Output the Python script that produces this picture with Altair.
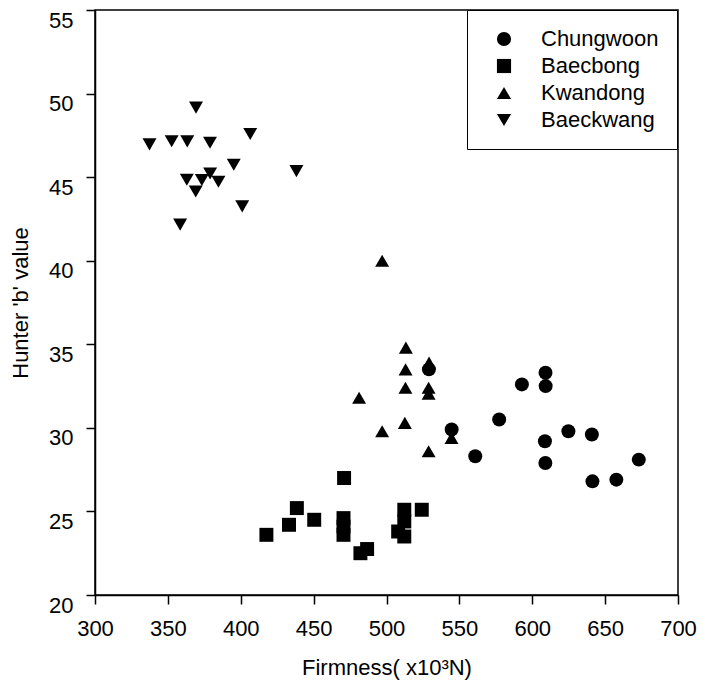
import altair as alt
import pandas as pd

varieties = ["Chungwoon", "Baecbong", "Kwandong", "Baeckwang"]
shapes = ["circle", "square", "triangle-up", "triangle-down"]

chungwoon_x = [529.1, 544.7, 560.9, 577.3, 592.9, 609.1, 609.2, 608.7, 609.0, 624.8, 640.9, 641.3, 657.7, 673.1]
chungwoon_y = [33.5, 29.9, 28.3, 30.5, 32.6, 33.3, 32.5, 29.2, 27.9, 29.8, 29.6, 26.8, 26.9, 28.1]

baecbong_x = [417.6, 433.1, 438.5, 450.4, 470.9, 470.5, 470.5, 470.5, 482.1, 486.7, 508.0, 512.2, 512.2, 512.2, 524.2]
baecbong_y = [23.6, 24.2, 25.2, 24.5, 27.0, 24.6, 24.1, 23.6, 22.5, 22.75, 23.8, 25.1, 24.4, 23.5, 25.1]

kwandong_x = [481.2, 497.0, 497.0, 513.3, 513.1, 513.0, 512.6, 529.2, 528.9, 528.9, 528.9, 544.6]
kwandong_y = [31.8, 40.0, 29.8, 34.8, 33.5, 32.4, 30.3, 33.9, 32.4, 32.05, 28.6, 29.4]

baeckwang_x = [337.4, 352.6, 358.4, 363.3, 363.0, 369.3, 369.1, 373.3, 378.9, 379.0, 384.7, 395.2, 401.0, 406.5, 438.2]
baeckwang_y = [46.96, 47.15, 42.16, 47.14, 44.84, 49.16, 44.14, 44.83, 47.06, 45.22, 44.72, 45.74, 43.25, 47.58, 45.36]

x_ticks = [300, 350, 400, 450, 500, 550, 600, 650, 700]
y_ticks = [20, 25, 30, 35, 40, 45, 50, 55]

rows = []
for name, xs, ys in [
    ("Chungwoon", chungwoon_x, chungwoon_y),
    ("Baecbong", baecbong_x, baecbong_y),
    ("Kwandong", kwandong_x, kwandong_y),
    ("Baeckwang", baeckwang_x, baeckwang_y),
]:
    for xv, yv in zip(xs, ys):
        rows.append({"Variety": name, "Firmness": xv, "Hunter_b": yv})
df = pd.DataFrame(rows)

FONT = "Liberation Sans"

chart = (
    alt.Chart(df)
    .mark_point(filled=True, opacity=1, color="black", strokeWidth=0, size=195)
    .encode(
        x=alt.X(
            "Firmness:Q",
            scale=alt.Scale(domain=[300, 700], nice=False, zero=False),
            axis=alt.Axis(values=x_ticks, title="Firmness( x10³N)", labelFlush=False,
                          labelPadding=14, titlePadding=18),
        ),
        y=alt.Y(
            "Hunter_b:Q",
            scale=alt.Scale(domain=[20, 55], nice=False, zero=False),
            axis=alt.Axis(values=y_ticks, title="Hunter 'b' value", labelFlush=False,
                          labelPadding=13, labelOffset=10, titlePadding=16),
        ),
        shape=alt.Shape(
            "Variety:N",
            scale=alt.Scale(domain=varieties, range=shapes),
            legend=alt.Legend(
                title=None, orient="none", legendX=372, legendY=0,
                strokeColor="black", fillColor="white", padding=18,
                symbolOffset=8, labelOffset=26, labelFontSize=22, labelFont=FONT,
                labelColor="black", rowPadding=5, symbolSize=200,
                symbolFillColor="black", symbolStrokeColor="black", symbolStrokeWidth=0,
            ),
        ),
    )
    .properties(
        width=583,
        height=585,
        autosize=alt.AutoSizeParams(type="none"),
        padding={"left": 95, "top": 10, "right": 25, "bottom": 96},
        background="white",
    )
    .configure_view(stroke="black", strokeWidth=1.5)
    .configure_axis(
        grid=False,
        domainColor="black", domainWidth=1.5,
        tickColor="black", tickWidth=1.5, tickSize=9,
        labelFont=FONT, labelFontSize=22, labelColor="black",
        titleFont=FONT, titleFontSize=22, titleFontWeight="normal", titleColor="black",
    )
)

chart.save("out.html", embed_options={"renderer": "svg", "actions": False})
